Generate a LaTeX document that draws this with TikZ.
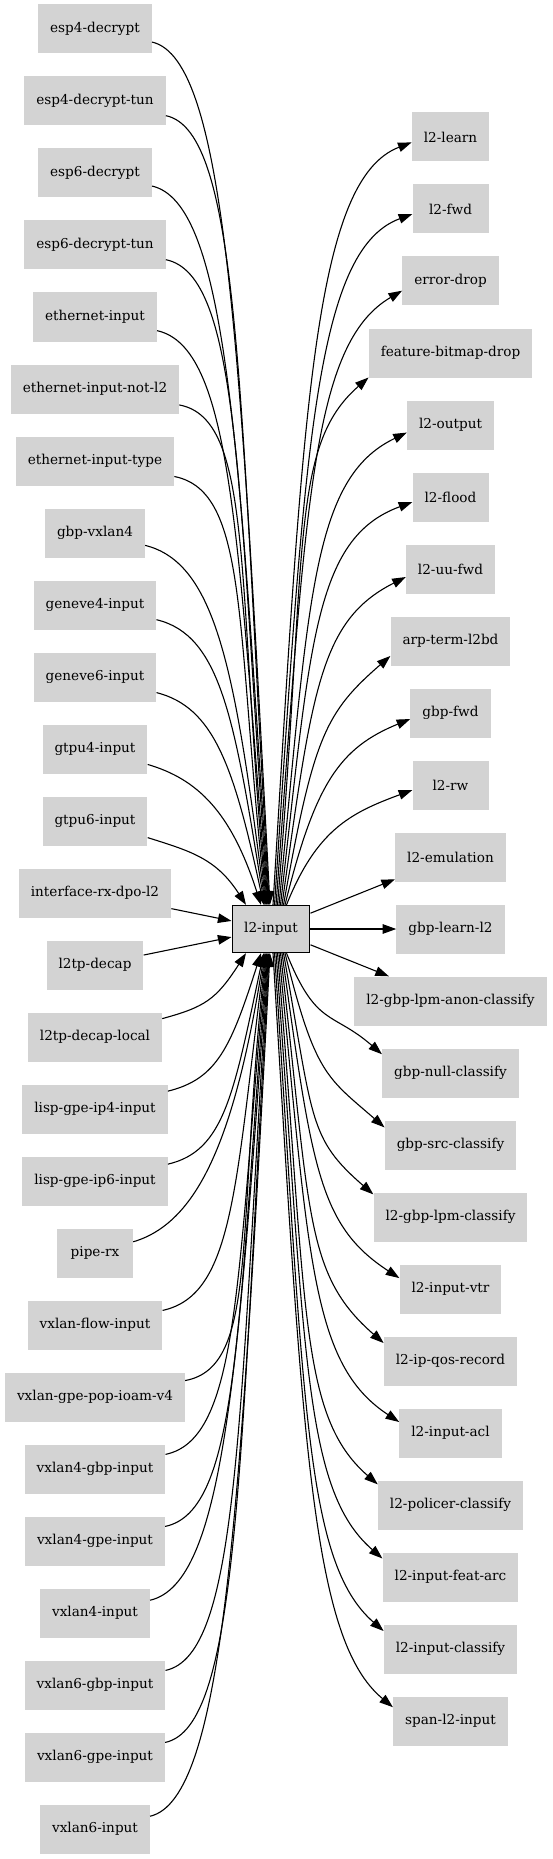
\documentclass[tikz,border=0pt]{standalone}
\usepackage{fontspec}
\setmainfont{DejaVu Serif}
\usetikzlibrary{arrows.meta,calc}
\definecolor{boxgray}{HTML}{D3D3D3}
\tikzset{
  box/.style={rectangle, fill=boxgray, draw=none, minimum width=76pt, minimum height=49pt,
    inner xsep=12pt, inner ysep=0pt, font=\fontsize{13.6}{16}\selectfont},
  hub/.style={box, draw=black, line width=1.3pt, minimum width=74pt, minimum height=47pt},
  edge/.style={line width=1.1pt, -{Triangle[length=13.6pt,width=9.5pt]}},
}
\begin{document}
\begin{tikzpicture}[x=1pt,y=-1pt]
\useasboundingbox (0,0) rectangle (552,1859);
\node[hub] (l2) at (271,929) {l2-input};
\foreach \t [count=\n from 0] in {esp4-decrypt,esp4-decrypt-tun,esp6-decrypt,esp6-decrypt-tun,ethernet-input,ethernet-input-not-l2,ethernet-input-type,gbp-vxlan4,geneve4-input,geneve6-input,gtpu4-input,gtpu6-input,interface-rx-dpo-l2,l2tp-decap,l2tp-decap-local,lisp-gpe-ip4-input,lisp-gpe-ip6-input,pipe-rx,vxlan-flow-input,vxlan-gpe-pop-ioam-v4,vxlan4-gbp-input,vxlan4-gpe-input,vxlan4-input,vxlan6-gbp-input,vxlan6-gpe-input,vxlan6-input}
  \node[box] (L\n) at (95,{29+72*\n}) {\t};
\foreach \t [count=\n from 0] in {l2-learn,l2-fwd,error-drop,feature-bitmap-drop,l2-output,l2-flood,l2-uu-fwd,arp-term-l2bd,gbp-fwd,l2-rw,l2-emulation,gbp-learn-l2,l2-gbp-lpm-anon-classify,gbp-null-classify,gbp-src-classify,l2-gbp-lpm-classify,l2-input-vtr,l2-ip-qos-record,l2-input-acl,l2-policer-classify,l2-input-feat-arc,l2-input-classify,span-l2-input}
  \node[box] (R\n) at (450.5,{137+72*\n}) {\t};
% upper-left incoming
\foreach \i in {0,...,11} {
  \pgfmathsetmacro\ys{29+72*\i}
  \pgfmathsetmacro\f{min(1,(905-\ys)/400)}
  \pgfmathsetmacro\ax{34+40*\f}
  \pgfmathsetmacro\ex{\i==11 ? 246 : (\i==10 ? 261 : 270-0.7*\i)}
  \pgfmathsetmacro\dx{\ex-271}
  \pgfmathsetmacro\cx{\ex-30}
  \pgfmathsetmacro\cy{\ys+12+0.35*(893-\ys)}
  \draw[edge] (L\i) .. controls ($(L\i.east)+(\ax,30)$) and (\cx,\cy) .. ([xshift=\dx pt]l2.north);
}
% lower-left incoming
\foreach \i in {14,...,25} {
  \pgfmathtruncatemacro\j{25-\i}
  \pgfmathsetmacro\ys{29+72*\i}
  \pgfmathsetmacro\f{min(1,(\ys-953)/400)}
  \pgfmathsetmacro\ax{34+40*\f}
  \pgfmathsetmacro\ex{\j==11 ? 246 : (\j==10 ? 261 : 270-0.7*\j)}
  \pgfmathsetmacro\dx{\ex-271}
  \pgfmathsetmacro\cx{\ex-30}
  \pgfmathsetmacro\cy{\ys-12-0.35*(\ys-965)}
  \draw[edge] (L\i) .. controls ($(L\i.east)+(\ax,-30)$) and (\cx,\cy) .. ([xshift=\dx pt]l2.south);
}
\draw[edge] (L12) -- (l2);
\draw[edge] (L13) -- (l2);
% upper-right outgoing
\foreach \k in {0,...,9} {
  \path (R\k.west); \pgfgetlastxy{\wx}{\wy}
  \pgfmathsetmacro\hw{450.5-\wx}
  \pgfmathsetmacro\yt{137+72*\k}
  \pgfmathsetmacro\f{min(1,(905-\yt)/400)}
  \pgfmathsetmacro\th{20+21*min(1,max(0,(\hw-38)/21))}
  \pgfmathsetmacro\de{min(24.5,5+0.45*(\hw-38))}
  \pgfmathsetmacro\L{50+55*\f}
  \pgfmathsetmacro\bx{\L*cos(\th)}
  \pgfmathsetmacro\by{\L*sin(\th)}
  \pgfmathsetmacro\sx{273+1.5*\k}
  \pgfmathsetmacro\dx{\sx-271}
  \pgfmathsetmacro\cx{\sx+30}
  \pgfmathsetmacro\cy{905-0.65*(905-\yt-5)}
  \draw[edge] ([xshift=\dx pt]l2.north) .. controls (\cx,\cy) and ($(R\k.west)+(-\bx,\de+\by)$) .. ($(R\k.west)+(0,\de)$);
}
% lower-right outgoing
\foreach \k in {13,...,22} {
  \path (R\k.west); \pgfgetlastxy{\wx}{\wy}
  \pgfmathsetmacro\hw{450.5-\wx}
  \pgfmathtruncatemacro\j{22-\k}
  \pgfmathsetmacro\yt{137+72*\k}
  \pgfmathsetmacro\f{min(1,(\yt-953)/400)}
  \pgfmathsetmacro\th{20+21*min(1,max(0,(\hw-38)/21))}
  \pgfmathsetmacro\de{min(24.5,5+0.45*(\hw-38))}
  \pgfmathsetmacro\L{50+55*\f}
  \pgfmathsetmacro\bx{\L*cos(\th)}
  \pgfmathsetmacro\by{\L*sin(\th)}
  \pgfmathsetmacro\sx{273+1.5*\j}
  \pgfmathsetmacro\dx{\sx-271}
  \pgfmathsetmacro\cx{\sx+30}
  \pgfmathsetmacro\cy{953+0.65*(\yt-958)}
  \draw[edge] ([xshift=\dx pt]l2.south) .. controls (\cx,\cy) and ($(R\k.west)+(-\bx,-\de-\by)$) .. ($(R\k.west)+(0,-\de)$);
}
\draw[edge] (l2) -- (R10);
\draw[edge] (l2) -- (R11);
\draw[edge] (l2) -- (R12);
\end{tikzpicture}
\end{document}
